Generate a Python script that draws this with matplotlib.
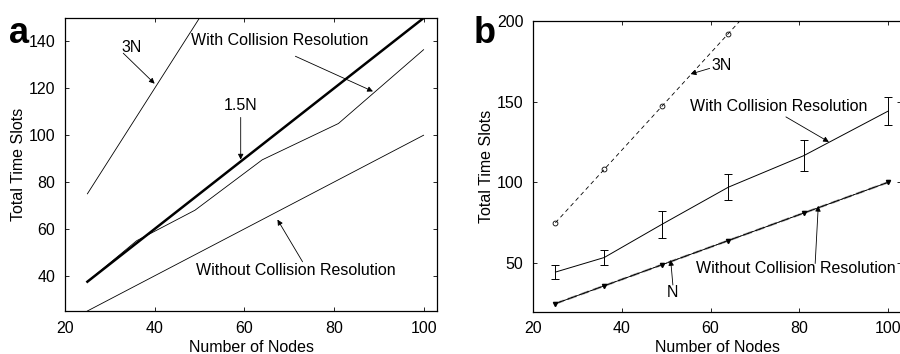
import matplotlib
matplotlib.use("Agg")
import matplotlib.pyplot as plt
import numpy as np

plt.rcParams['font.family'] = ['Liberation Sans', 'DejaVu Sans']
plt.rcParams['font.size'] = 11.5

# data
nodes = [25, 36, 49, 64, 81, 100]
# panel a
a_3n = [75, 108, 147, 192]
a_3n_x = [25, 36, 49, 64]
a_15n = [37.5, 54, 73.5, 96, 121.5, 150]
a_with = [37.5, 55, 68, 89.5, 105, 136.5]
a_without = [25, 36, 49, 64, 81, 100]
# panel b
b_3n_x = [25, 36, 49, 64, 81]
b_3n = [75, 108, 147, 192, 243]
b_with = [44.5, 53.5, 74, 97, 116.5, 144]
b_with_err = [4.5, 4.5, 8.5, 8, 9.5, 8.5]
b_without = [25, 36, 49, 64, 81, 100]
b_n = [25, 36, 49, 64, 81, 100]

fig = plt.figure(figsize=(9, 3.54), dpi=100)


def style(ax):
    ax.tick_params(direction='in', top=True, right=True, length=3, width=0.6, labelsize=11.5)
    ax.tick_params(axis='x', pad=7)
    ax.tick_params(axis='y', pad=7)
    for s in ax.spines.values():
        s.set_linewidth(0.9)


arrow = dict(arrowstyle='-|>', color='k', lw=0.6, mutation_scale=8, shrinkA=0, shrinkB=0)

# ---- panel a
ax = fig.add_axes([0.0722, 0.1215, 0.4134, 0.8275])
ax.plot(a_3n_x, a_3n, color='k', lw=0.6)
ax.plot(nodes, a_15n, color='k', lw=1.8)
ax.plot(nodes, a_with, color='k', lw=0.6)
ax.plot(nodes, a_without, color='k', lw=0.6)
ax.set_xlim(20, 103)
ax.set_ylim(25, 150)
ax.set_xticks([20, 40, 60, 80, 100])
ax.set_yticks([40, 60, 80, 100, 120, 140])
ax.set_xlabel('Number of Nodes')
ax.set_ylabel('Total Time Slots')
ax.yaxis.set_label_coords(-0.105, 0.5)
ax.xaxis.set_label_coords(0.5, -0.099)
style(ax)
ax.annotate('', xy=(40, 122), xytext=(33, 135), arrowprops=arrow)
ax.text(34.8, 137.5, '3N', ha='center', va='center')
ax.annotate('', xy=(88.7, 118.7), xytext=(71.4, 133.7), arrowprops=arrow)
ax.text(67.8, 140.5, 'With Collision Resolution', ha='center', va='center')
ax.annotate('', xy=(59.2, 89.6), xytext=(59.2, 107.6), arrowprops=arrow)
ax.text(59.2, 112.5, '1.5N', ha='center', va='center')
ax.annotate('', xy=(67.4, 64), xytext=(73, 46), arrowprops=arrow)
ax.text(71.4, 42.3, 'Without Collision Resolution', ha='center', va='center')
fig.text(0.01, 0.905, 'a', fontsize=26, fontweight='bold', va='center')

# ---- panel b
bx = fig.add_axes([0.5925, 0.1195, 0.4088, 0.822])
bx.plot(b_3n_x, b_3n, color='k', lw=0.6, ls=(0, (5, 4)), marker='o', ms=3.5,
        mfc='none', mew=0.6)
bx.errorbar(nodes, b_with, yerr=b_with_err, color='k', lw=0.7, capsize=3, elinewidth=0.7, capthick=0.7)
bx.plot(b_n, b_n, color='0.6', lw=1.6, ls=(0, (4, 2)))
bx.plot(nodes, b_without, color='k', lw=0.6, marker='v', ms=3)
bx.plot(b_n, b_n, color='k', lw=0.5, ls=(0, (3, 3)))
bx.set_xlim(20, 103)
bx.set_ylim(20, 200)
bx.set_xticks([20, 40, 60, 80, 100])
bx.set_yticks([50, 100, 150, 200])
bx.set_xlabel('Number of Nodes')
bx.set_ylabel('Total Time Slots')
bx.yaxis.set_label_coords(-0.106, 0.5)
bx.xaxis.set_label_coords(0.5, -0.097)
style(bx)
bx.annotate('', xy=(55.5, 167), xytext=(59.8, 170.5), arrowprops=arrow)
bx.text(60.2, 172, '3N', ha='left', va='center')
bx.annotate('', xy=(86.7, 125), xytext=(77, 140.5), arrowprops=arrow)
bx.text(75.3, 147, 'With Collision Resolution', ha='center', va='center')
bx.annotate('', xy=(84.3, 85.5), xytext=(83.6, 49.8), arrowprops=arrow)
bx.text(56.8, 46.7, 'Without Collision Resolution', ha='left', va='center', clip_on=False)
bx.annotate('', xy=(51, 52), xytext=(51.5, 36.5), arrowprops=arrow)
bx.text(51.4, 32, 'N', ha='center', va='center')
fig.text(0.526, 0.905, 'b', fontsize=26, fontweight='bold', va='center')

fig.savefig('out.png', dpi=100)
